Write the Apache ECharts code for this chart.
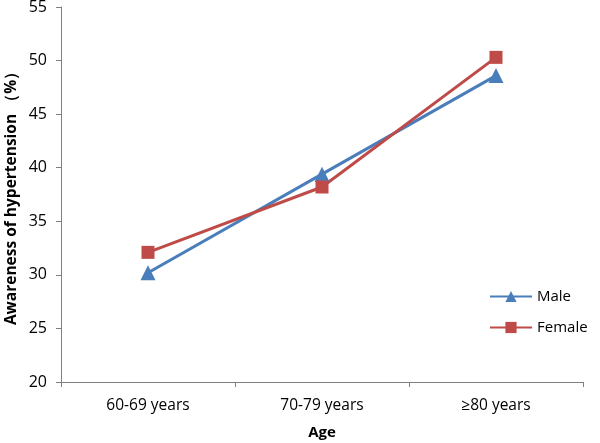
<!DOCTYPE html>
<html><head><meta charset="utf-8">
<script src="https://cdn.jsdelivr.net/npm/echarts@6/dist/echarts.min.js"></script>
<style>html,body{margin:0;padding:0;background:#fff}#c{width:600px;height:443px}</style>
</head><body><div id="c"></div>
<script>
const categories = ['60-69 years', '70-79 years', '≥80 years'];
const male = [30.2, 39.4, 48.6];
const female = [32.1, 38.2, 50.3];
const yTicks = {min: 20, max: 55, interval: 5};

const chart = echarts.init(document.getElementById('c'));
const font = 'Open Sans';
chart.setOption({
  animation: false,
  grid: {left: 61, right: 17, top: 7, bottom: 61, outerBoundsMode: 'none', containLabel: false},
  legend: {
    orient: 'vertical', left: 484, top: 284, itemGap: 16, itemWidth: 42, itemHeight: 14,
    textStyle: {fontFamily: font, fontSize: 15, color: '#000'},
    data: ['Male', 'Female']
  },
  xAxis: {
    type: 'category', data: categories, boundaryGap: true,
    name: 'Age', nameLocation: 'middle', nameGap: 43, nameMoveOverlap: false,
    nameTextStyle: {fontFamily: font, fontSize: 15, fontWeight: 'bold', color: '#000'},
    axisLine: {lineStyle: {color: '#7f7f7f', width: 1}},
    axisTick: {show: true, alignWithLabel: false, length: 5, lineStyle: {color: '#7f7f7f'}},
    axisLabel: {fontFamily: font, fontSize: 15.5, color: '#000', margin: 16}
  },
  yAxis: {
    type: 'value', min: yTicks.min, max: yTicks.max, interval: yTicks.interval,
    name: 'Awareness of hypertension （%）', nameLocation: 'middle', nameGap: 41, nameMoveOverlap: false,
    nameTextStyle: {fontFamily: font, fontSize: 15.5, fontWeight: 'bold', color: '#000'},
    axisLine: {show: true, lineStyle: {color: '#7f7f7f', width: 1}},
    axisTick: {show: true, length: 5, lineStyle: {color: '#7f7f7f'}},
    splitLine: {show: false},
    axisLabel: {fontFamily: font, fontSize: 16, color: '#000', margin: 14}
  },
  series: [
    {name: 'Male', type: 'line', data: male, symbol: 'triangle', symbolSize: 15,
     lineStyle: {width: 3, color: '#4A7EBB'}, itemStyle: {color: '#4A7EBB'}},
    {name: 'Female', type: 'line', data: female, symbol: 'rect', symbolSize: 13,
     lineStyle: {width: 3, color: '#BE4B48'}, itemStyle: {color: '#BE4B48'}}
  ]
});
</script></body></html>
